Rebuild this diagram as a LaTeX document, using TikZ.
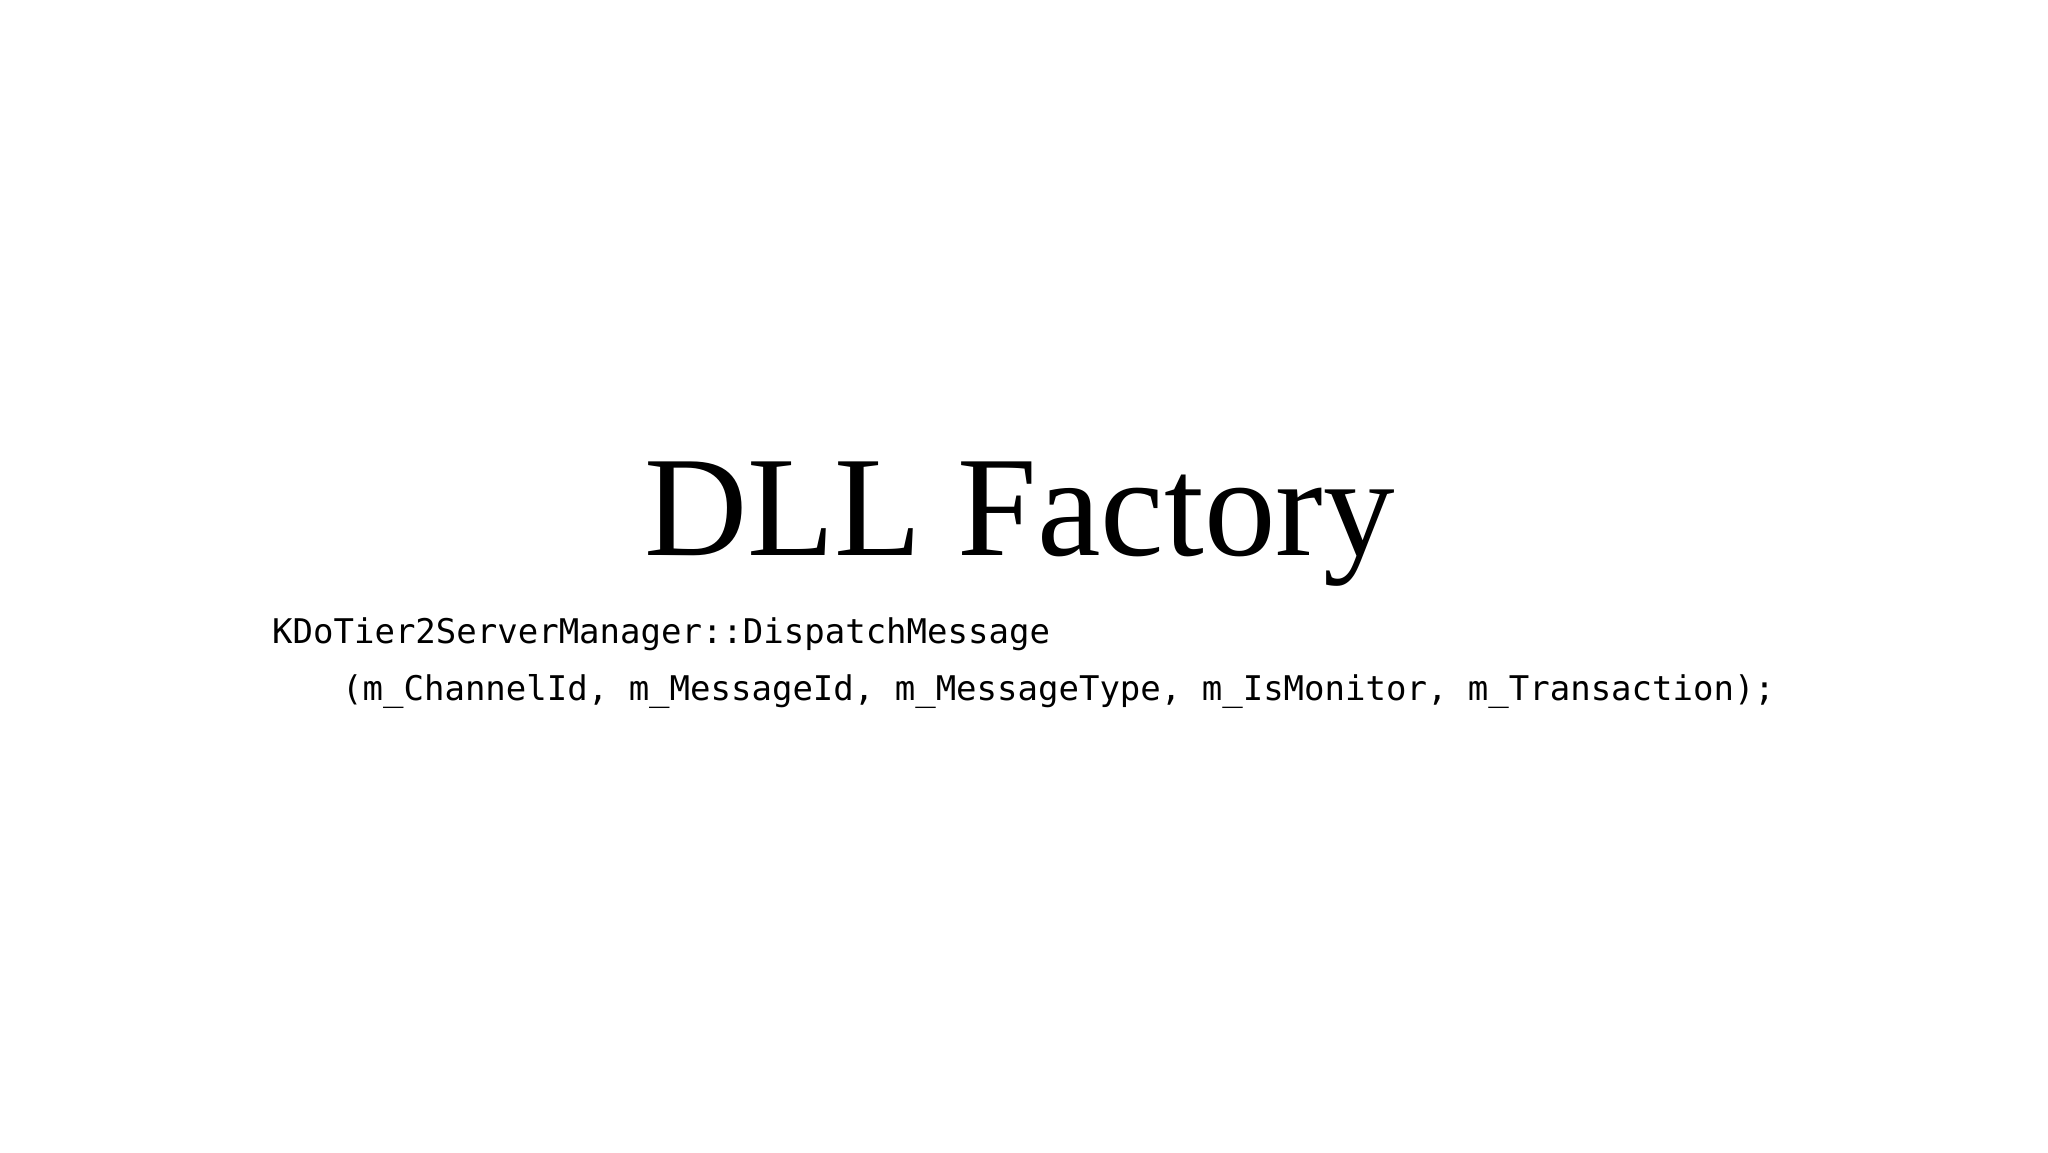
\documentclass[tikz,border=0pt]{standalone}
\usepackage{fontspec}
\setmainfont{Liberation Serif}
\setmonofont{DejaVu Sans Mono}
\begin{document}
\begin{tikzpicture}[x=1pt,y=-1pt,txt/.style={anchor=base west,inner sep=0pt}]
\useasboundingbox (0,0) rectangle (2048,1152);
\node[txt] (title) at (644,555) {\fontsize{143}{150}\selectfont DLL Factory};
\node[txt] (l1) at (272,643) {\fontsize{34}{40}\selectfont\ttfamily KDoTier2ServerManager::DispatchMessage};
\node[txt] (l2) at (342,700) {\fontsize{34}{40}\selectfont\ttfamily (m\_ChannelId, m\_MessageId, m\_MessageType, m\_IsMonitor, m\_Transaction);};
\end{tikzpicture}
\end{document}
